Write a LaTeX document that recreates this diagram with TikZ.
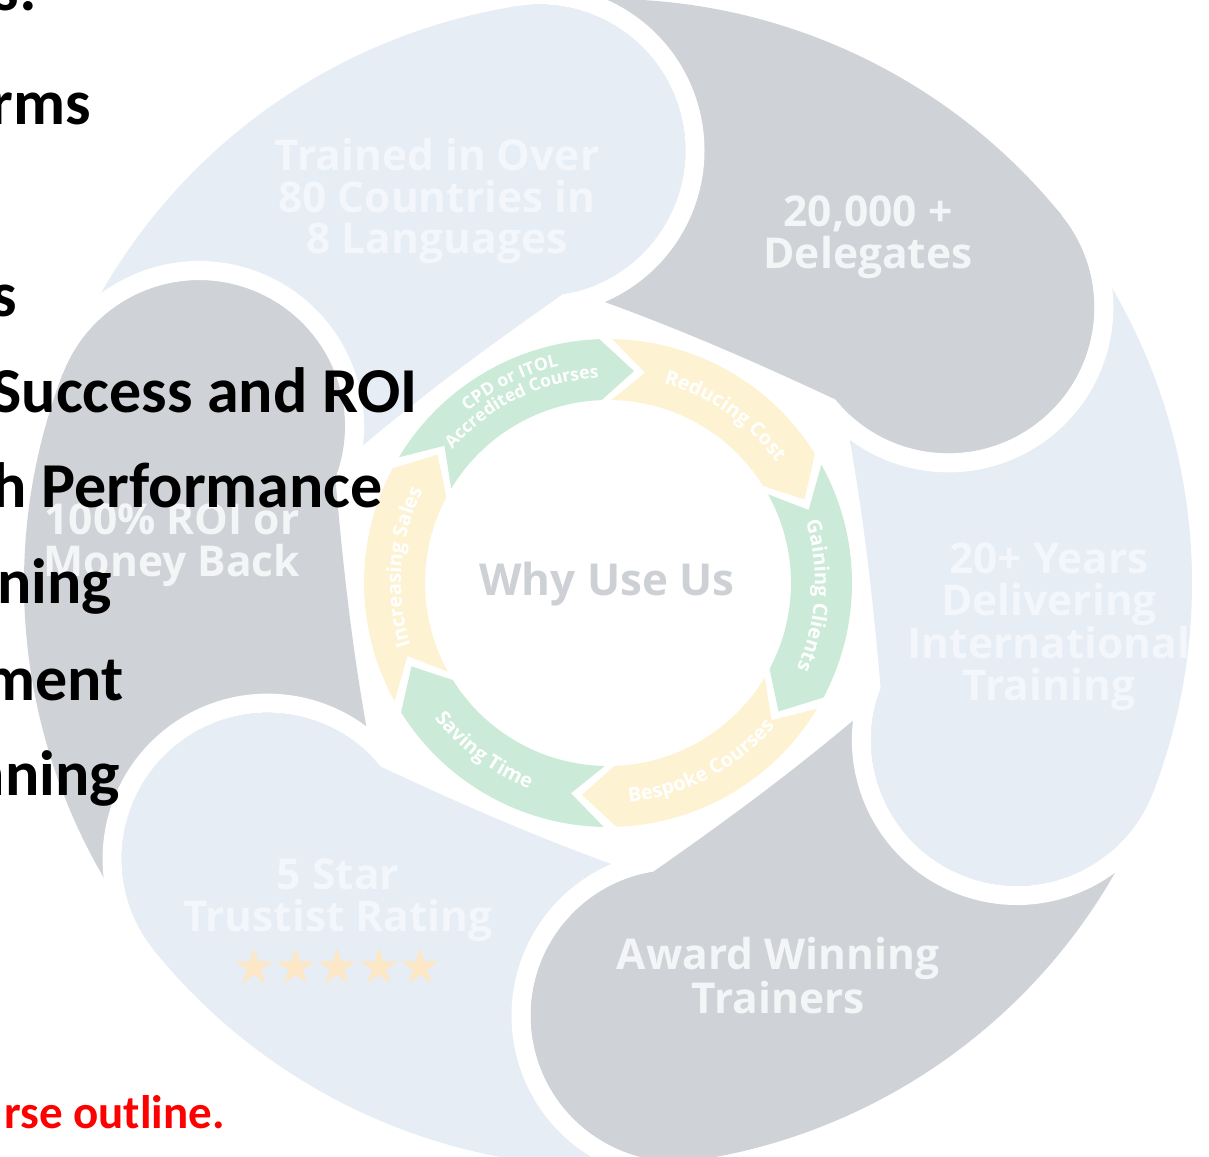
\documentclass[tikz,border=0pt]{standalone}
\usepackage{fontspec}
\newfontfamily\osans{Open Sans}
\newfontfamily\carlito{Carlito}
\usetikzlibrary{decorations.text,shapes.geometric}

\definecolor{swirlgray}{HTML}{CFD2D7}
\definecolor{swirlblue}{HTML}{E6EDF5}
\definecolor{ringgreen}{HTML}{CBEBD8}
\definecolor{ringyellow}{HTML}{FDF2D1}
\definecolor{whygray}{HTML}{CDD0D5}
\definecolor{stargold}{HTML}{FCE7C6}
\definecolor{onblue}{HTML}{F3F6FA}
\definecolor{ongray}{HTML}{F4F5F7}

\newcommand{\ringfont}{\osans\bfseries\fontsize{20}{20}\selectfont}
\newcommand{\cpdfont}{\osans\bfseries\fontsize{17.5}{17.5}\selectfont}

\tikzset{
	bigtext/.style={font=\osans\bfseries\fontsize{42.5}{41.5}\selectfont, align=center, inner sep=0pt},
	listtext/.style={font=\carlito\bfseries\fontsize{64}{64}\selectfont, anchor=base east, inner sep=0pt},
	ratingstar/.style={star, star points=5, star point ratio=2.618, minimum size=39pt, inner sep=0pt, fill=stargold},
	ringlabel/.style={decorate, decoration={text along path, text align=center, text color=white, text={#1}}},
}

\begin{document}
\begin{tikzpicture}[x=1pt,y=1pt]
	\useasboundingbox (-608,-573) rectangle (601,583);
	
	%SWIRL TAILS
	\foreach \a/\c in {39/swirlgray,99/swirlblue,159/swirlgray,219/swirlblue,279/swirlgray,339/swirlblue}{
		\fill[\c] (\a:584) arc[start angle=\a, end angle=\a+60, radius=584]
			-- ({\a+60}:300) .. controls ({\a+40}:268) and ({\a+20}:264) .. (\a:292) -- cycle;
	}
	%SWIRL HEADS
	\foreach \a/\c in {39/swirlgray,99/swirlblue,159/swirlgray,219/swirlblue,279/swirlgray,339/swirlblue}{
		\fill[\c] (\a:438) circle[radius=146];
		\draw[white,line width=19pt] (\a:438) ++(\a:155.5) arc[start angle=\a, end angle=\a-180, radius=155.5];
	}
	
	%SWIRL LABELS
	\node[bigtext,text=onblue] (trained) at (-171,381.7) {Trained in Over\\80 Countries in\\8 Languages};
	\node[bigtext,text=ongray] (delegates) at (260,345.7) {20,000 +\\Delegates};
	\node[bigtext,text=onblue] (years) at (441,-43.7) {20+ Years\\Delivering\\International\\Training};
	\node[bigtext,text=ongray] (award) at (170,-392.4) {Award Winning\\Trainers};
	\node[bigtext,text=onblue] (fivestar) at (-270,-317.3) {5 Star\\Trustist Rating};
	\node[bigtext,text=ongray] (roi) at (-436,37.6) {100\% ROI or\\Money Back};
	\foreach \i/\x in {1/-354,2/-312.5,3/-271,4/-229,5/-188}
		\node[ratingstar] (star\i) at (\x,-384.5) {};
	
	%INNER RING
	\foreach \b/\c in {90.5/ringgreen,30.5/ringyellow,-29.5/ringgreen,-89.5/ringyellow,-149.5/ringgreen,150.5/ringyellow}{
		\fill[\c] ({\b+58.5}:244) arc[start angle=\b+58.5, end angle=\b+1.5, radius=244]
			-- ({\b-7.5}:213.5) -- ({\b+1.5}:183) arc[start angle=\b+1.5, end angle=\b+58.5, radius=183]
			-- ({\b+49.5}:213.5) -- cycle;
	}
	\path[ringlabel={|\cpdfont|CPD or ITOL}] (146:222) arc[start angle=146, end angle=86, radius=222];
	\path[ringlabel={|\cpdfont|Accredited Courses}] (146:205) arc[start angle=146, end angle=86, radius=205];
	\path[ringlabel={|\ringfont|Reducing Cost}] (85:207) arc[start angle=85, end angle=25, radius=207];
	\path[ringlabel={|\ringfont|Gaining Clients}] (26.5:207) arc[start angle=26.5, end angle=-33.5, radius=207];
	\path[ringlabel={|\ringfont|Bespoke Courses}] (-92.6:220) arc[start angle=-92.6, end angle=-32.6, radius=220];
	\path[ringlabel={|\ringfont|Saving Time}] (203.5:220) arc[start angle=203.5, end angle=263.5, radius=220];
	\path[ringlabel={|\ringfont|Increasing Sales}] (205.5:207) arc[start angle=205.5, end angle=145.5, radius=207];
	\node[bigtext,text=whygray,font=\osans\bfseries\fontsize{44}{44}\selectfont] (why) at (-1,-1.3) {Why Use Us};
	
	%LIST TEXT
	\node[listtext] (colon) at (-571,572) {es:};
	\node[listtext] (forms) at (-517,458) {rms};
	\node[listtext] (items) at (-591,266) {s};
	\node[listtext] (success) at (-190,170) {Success and ROI};
	\node[listtext] (perf) at (-225,75) {h Performance};
	\node[listtext] (plan) at (-496,-20) {ning};
	\node[listtext] (manage) at (-484,-117) {ment};
	\node[listtext] (plantwo) at (-488,-212) {nning};
	\node[listtext,text=red,font=\carlito\bfseries\fontsize{47}{47}\selectfont] (outline) at (-383,-545) {rse outline.};
\end{tikzpicture}
\end{document}
